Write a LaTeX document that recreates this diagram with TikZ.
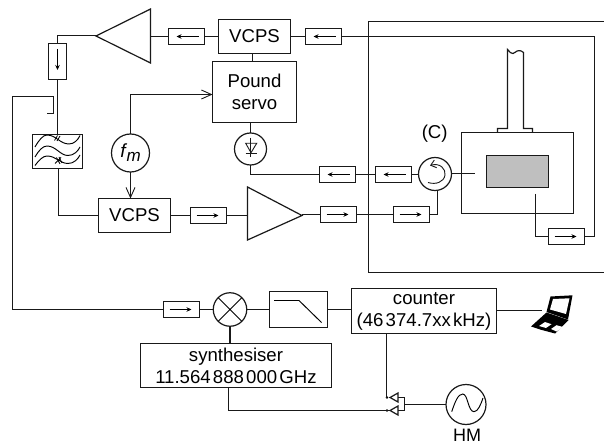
\documentclass[tikz,border=0pt]{standalone}
\usepackage{fontspec}
\setmainfont{Liberation Sans}
\usetikzlibrary{arrows.meta}
\tikzset{
  ln/.style={line width=1.2pt,draw=black!90},
  box/.style={ln,rectangle,inner sep=0pt,outer sep=0pt,align=center,font=\fontsize{18.6}{22}\selectfont},
  isobox/.style={ln,rectangle,inner sep=0pt,outer sep=0pt,minimum width=36pt,minimum height=16pt},
  ring/.style={ln,circle,inner sep=0pt,outer sep=0pt},
  isoar/.style={line width=0.9pt,-{Stealth[length=5pt,width=4.5pt]}},
  open/.style={ln,-{Straight Barb[length=10pt,width=9pt,line width=0.9pt]}},
  lbl/.style={inner sep=0pt,outer sep=0pt,font=\fontsize{18.6}{22}\selectfont},
  tri/.style={ln,fill=white,line join=miter},
}
\newcommand{\isoR}[3]{\node[isobox] (#1) at (#2,#3) {};
  \draw[isoar] ([xshift=-12pt]#1.center) -- ([xshift=10pt]#1.center);}
\newcommand{\isoL}[3]{\node[isobox] (#1) at (#2,#3) {};
  \draw[isoar] ([xshift=12pt]#1.center) -- ([xshift=-10pt]#1.center);}
\begin{document}
\begin{tikzpicture}[x=1pt,y=-1pt]
\useasboundingbox (0,0) rectangle (604,443);
% enclosure
\draw[ln] (604,21.5) -- (368.5,21.5) -- (368.5,272.5) -- (604,272.5);
% upper chain
\node[box,minimum width=72pt,minimum height=34pt] (vt) at (254.5,36.5) {VCPS};
\isoL{it1}{186.5}{36.5}
\isoL{it2}{323.5}{36.5}
\draw[ln,fill=white] (150.5,9) -- (150.5,63) -- (96,36) -- cycle;
\coordinate (ampt) at (150.5,36.5);
\coordinate (ampttip) at (96,35.5);
\node[isobox,minimum width=18pt,minimum height=36pt] (iv) at (57.5,61.5) {};
\draw[isoar] (57.5,49) -- (57.5,70);
\draw[ln] (it1.east) -- (vt.west);
\draw[ln] (ampt) -- (it1.west);
\draw[ln] (vt.east) -- (it2.west);
\draw[ln] (ampttip) -| (iv.north);
% pound
\node[box,minimum width=84pt,minimum height=61pt] (ps) at (254.5,92) {Pound\\servo};
\draw[ln] (252.5,53.5) -- (252.5,61.5);
\node[ring,minimum size=32pt] (det) at (250.5,149) {};
\draw[ln] (det.north) -- (det.north |- ps.south);
\draw[ln,line width=0.9pt] (245.7,143.3) -- (256.7,143.3) -- (251,152.7) -- cycle;
\draw[ln,line width=0.9pt] (245.7,153) -- (256.7,153) (250.7,138) -- (250.7,157);
% detector chain
\isoL{id1}{337.5}{174.5}
\isoL{id2}{393.5}{174.5}
\node[ring,minimum size=33pt] (circ) at (435,174) {};
\draw[ln] (det.south) |- (id1.west);
\draw[ln] (id1.east) -- (id2.west);
\draw[ln] (id2.east) -- (circ.west |- id2.east);
\draw[ln,line width=0.9pt,{Straight Barb[length=5pt,width=8pt]}-] (430,165.5) .. controls (440,162.5) and (446,169) .. (445,175) .. controls (444,182) and (436,185) .. (428,182.5);
\node[lbl] at (434.7,134) {(C)};
% cavity
\node[box,minimum width=112pt,minimum height=81pt] (cav) at (517.5,173) {};
\node[ln,rectangle,fill=black!25,inner sep=0pt,outer sep=0pt,minimum width=62pt,minimum height=32pt] (mass) at (517.5,171.5) {};
\coordinate (probe) at (474.5,173.5);
\draw[ln] (circ.east |- probe) -- (probe);
\draw[ln] (497.5,132.5) -- (497.5,128.5) -- (507.5,128.5) -- (507.5,49.5) .. controls (510,52) and (511,54) .. (513,53.5) .. controls (516,52.5) and (518,48) .. (523.5,52.5) -- (523.5,128.5) -- (532.5,128.5) -- (532.5,132.5);
% return
\isoR{ir}{566.5}{236.5}
\coordinate (pr2) at (535.5,194);
\draw[ln] (pr2) |- (ir.west);
\draw[ln] (ir.east) -- (594.5,236.5) |- (it2.east);
% lower chain
\node[box,minimum width=72pt,minimum height=34pt] (vb) at (134.5,215.5) {VCPS};
\isoR{ib1}{208.5}{215.5}
\draw[ln,fill=white] (247.5,187) -- (247.5,240) -- (302,215.5) -- cycle;
\coordinate (ampbi) at (247.5,215.5);
\coordinate (ampbo) at (302,214.5);
\isoR{ib2}{338.5}{214.5}
\isoR{ib3}{411.5}{214.5}
\draw[ln] (vb.east) -- (ib1.west);
\draw[ln] (ib1.east) -- (ampbi);
\draw[ln] (ampbo) -- (ib2.west);
\draw[ln] (ib2.east) -- (ib3.west);
\draw[ln] (ib3.east) -- (437.5,214.5) -- (437.5,190.5);
% fm
\node[ring,minimum size=38pt,font=\fontsize{19}{21}\selectfont] (fm) at (130.5,153) {\itshape f\kern1pt\raisebox{-4pt}{\fontsize{17}{19}\selectfont m}};
\coordinate (srvin) at (212.5,94.5);
\draw[open] (fm.north) |- (srvin);
\draw[open] (fm.south) -- (fm.south |- vb.north);
% coupler
\node[ln,rectangle,inner sep=0pt,outer sep=0pt,minimum width=50pt,minimum height=34pt] (cpl) at (57.5,151.5) {};
\draw[ln] (iv.south) -- (iv.south |- cpl.north);
\draw[ln] (58.5,168.5) |- (vb.west);
\draw[line width=0.95pt] (35,147) .. controls (39,140) and (43,135) .. (47,135) .. controls (56,135) and (60,144) .. (69,144) .. controls (74,144) and (78,140) .. (80,135.5);
\draw[line width=0.95pt] (35,157) .. controls (39,150) and (43,146) .. (47,146) .. controls (56,146) and (60,155.5) .. (68,155.5) .. controls (74,155.5) and (78,151) .. (80,147);
\draw[line width=0.95pt] (35,165.5) .. controls (39,160) and (43,156) .. (47,156) .. controls (56,156) and (60,163.5) .. (68,163.5) .. controls (74,163.5) and (78,159) .. (80,155);
\draw[line width=0.8pt] (54.5,140.5) -- (57.5,135.5) (57,141) -- (60,136) (56.5,157.5) -- (60,164) (59,157) -- (62,163) (55,163.5) -- (61,157.5);
% tap line
\coordinate (tap) at (47,113.5);
\isoR{im}{181.5}{309.5}
\node[ring,minimum size=33.5pt] (mix) at (230,309.5) {};
\draw[line width=0.95pt] (mix.north west) -- (mix.south east) (mix.north east) -- (mix.south west);
\draw[ln] (tap) -- (53.5,113.5) -- (53.5,96.5) -- (12.5,96.5) |- (im.west);
\draw[ln] (im.east) -- (mix.west);
% low pass
\node[ln,rectangle,inner sep=0pt,outer sep=0pt,minimum width=58pt,minimum height=36pt] (lp) at (298.5,309.5) {};
\draw[line width=0.95pt] (274,300.5) -- (299,300.5) -- (321.5,322.5);
\draw[ln] (mix.east) -- (lp.west);
% counter
\node[box,minimum width=145pt,minimum height=45pt] (cnt) at (424,311) {counter\\(46\kern0.12em 374.7xx\kern0.12em kHz)};
\draw[ln] (lp.east) -- (lp.east -| cnt.west);
\coordinate (lap) at (541.5,310.5);
\draw[ln] (cnt.east |- lap) -- (lap);
% laptop
\fill[black] (550.5,296.5) -- (572.5,295.3) -- (568,319.5) -- (546.5,312) -- cycle;
\fill[white] (553,299) -- (569.5,298.3) -- (566,314) -- (550,309.5) -- cycle;
\fill[black] (531,326.5) -- (546.5,312.5) -- (568.5,320) -- (555,333.5) -- (540,329.5) -- cycle;
\fill[white] (539,326) -- (545,322) -- (551.5,324.2) -- (546,328) -- cycle (551,329) -- (556.5,325.2) -- (563,327) -- (556.5,331.5) -- cycle;
% synthesiser
\node[box,minimum width=191pt,minimum height=44pt] (syn) at (236,365.5) {synthesiser\\11.564\kern0.12em 888\kern0.12em 000\kern0.12em GHz};
\draw[ln] (mix.south) -- (mix.south |- syn.north);
% combiner
\node[ring,minimum size=40pt] (hm) at (466,404.5) {};
\draw[line width=0.95pt] (451.7,411.7) .. controls (455,402) and (458,394) .. (462.7,394) .. controls (468,394) and (468,411.7) .. (474,411.7) .. controls (478,411.7) and (481,404) .. (483,398);
\node[lbl,anchor=base,font=\fontsize{18}{22}\selectfont] (hml) at (467,441) {HM};
\coordinate (a1) at (387,397.5);
\coordinate (a2) at (387,410.5);
\coordinate (cntx) at (386.5,397.5);
\coordinate (synx) at (228.5,410.5);
\draw[tri] (398,393) -- (398,402) -- (390,397.5) -- cycle;
\draw[tri] (398,406) -- (398,415) -- (390,410.5) -- cycle;
\fill (a1) circle (1.4pt);
\fill (a2) circle (1.4pt);
\draw[ln] (398,397.5) -- (404.5,397.5) -- (404.5,410.5) -- (398,410.5);
\draw[ln] (404.5,404.5) -- (hm.west);
\draw[ln] (cntx) -- (cntx |- cnt.south);
\draw[ln] (synx |- syn.south) -- (synx) -- (390,410.5);
\end{tikzpicture}
\end{document}
